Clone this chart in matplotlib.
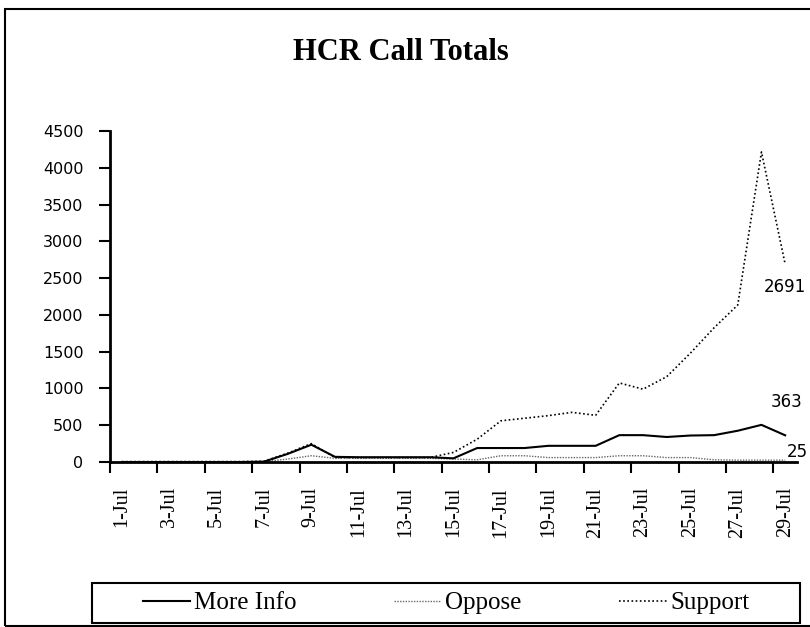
import numpy as np
import matplotlib
matplotlib.use("Agg")
import matplotlib.pyplot as plt
from matplotlib.patches import Rectangle

# daily call totals, 1-Jul .. 29-Jul
days = ['1-Jul', '2-Jul', '3-Jul', '4-Jul', '5-Jul', '6-Jul', '7-Jul', '8-Jul',
        '9-Jul', '10-Jul', '11-Jul', '12-Jul', '13-Jul', '14-Jul', '15-Jul',
        '16-Jul', '17-Jul', '18-Jul', '19-Jul', '20-Jul', '21-Jul', '22-Jul',
        '23-Jul', '24-Jul', '25-Jul', '26-Jul', '27-Jul', '28-Jul', '29-Jul']
more_info = [0, 0, 0, 0, 0, 0, 5, 110, 235, 70, 65, 65, 65, 65, 50,
             190, 190, 190, 220, 220, 220, 365, 365, 340, 360, 365, 425, 505, 363]
oppose = [0, 0, 0, 0, 0, 0, 5, 40, 85, 50, 50, 50, 50, 50, 40,
          30, 85, 85, 60, 60, 60, 85, 85, 60, 60, 30, 25, 25, 25]
support = [5, 5, 5, 5, 5, 5, 10, 120, 250, 60, 60, 60, 60, 60, 130,
           310, 560, 595, 630, 675, 635, 1075, 990, 1160, 1480, 1825, 2135, 4215, 2691]
yticks = [0, 500, 1000, 1500, 2000, 2500, 3000, 3500, 4000, 4500]

serif = 'Liberation Serif'

fig = plt.figure(figsize=(8.1, 6.27), dpi=100)
ax = fig.add_axes([110 / 810, 1 - 462 / 627, 687 / 810, 331 / 627])

x = np.arange(len(days))
ax.plot(x, support, color='black', lw=1.2, ls=(0, (1, 1.5)), label='Support')
ax.plot(x, oppose, color='#666666', lw=1.0, ls=(0, (1, 1)), label='Oppose')
ax.plot(x, more_info, color='black', lw=1.5, ls='-', label='More Info')

# end-of-line value labels
ax.annotate(str(support[-1]), (x[-1], support[-1]), xytext=(0, -23),
            textcoords='offset pixels', ha='center', va='center',
            family='DejaVu Sans', fontsize=12)
ax.annotate(str(more_info[-1]), (x[-1], more_info[-1]), xytext=(1, 33),
            textcoords='offset pixels', ha='center', va='center',
            family='DejaVu Sans', fontsize=12)
ax.annotate(str(oppose[-1]), (x[-1], oppose[-1]), xytext=(12, 8),
            textcoords='offset pixels', ha='center', va='center',
            family='DejaVu Sans', fontsize=12, annotation_clip=False)

ax.set_xlim(-0.5, len(days) - 0.5)
ax.set_ylim(0, 4500)
ax.set_yticks(yticks)
ax.tick_params(axis='y', direction='out', length=8, width=1.5, pad=11,
               labelsize=11.5)

# tick marks between categories, labels on every other day
ax.set_xticks(np.arange(-0.5, len(days) - 1, 2))
ax.set_xticklabels([])
ax.set_xticks(x[::2], minor=True)
ax.set_xticklabels(days[::2], minor=True, rotation=90, family=serif,
                   fontsize=14.5)
ax.tick_params(axis='x', which='major', direction='out', length=8, width=1.5)
ax.tick_params(axis='x', which='minor', length=0, pad=18)

for s in ['top', 'right']:
    ax.spines[s].set_visible(False)
for s in ['left', 'bottom']:
    ax.spines[s].set_linewidth(2)

fig.text(401 / 810, 1 - 53 / 627, 'HCR Call Totals', ha='center', va='center',
         family=serif, fontsize=22, fontweight='bold')

# legend box
handles, labels = ax.get_legend_handles_labels()
order = [2, 1, 0]
fig.legend([handles[i] for i in order], [labels[i] for i in order],
           loc='center', bbox_to_anchor=(446 / 810, 1 - 603 / 627), ncol=3,
           frameon=False, prop={'family': serif, 'size': 18},
           handlelength=1.9, handletextpad=0.15, columnspacing=3.9)
fig.patches.append(Rectangle((92 / 810, 1 - 623 / 627), 708 / 810, 40 / 627,
                             transform=fig.transFigure, fill=False,
                             edgecolor='black', lw=1.5))

# outer chart frame
fig.patches.append(Rectangle((5 / 810, 1 - 626 / 627), 1.0, 617 / 627,
                             transform=fig.transFigure, fill=False,
                             edgecolor='black', lw=1.5))

fig.savefig('out.png', dpi=100)
